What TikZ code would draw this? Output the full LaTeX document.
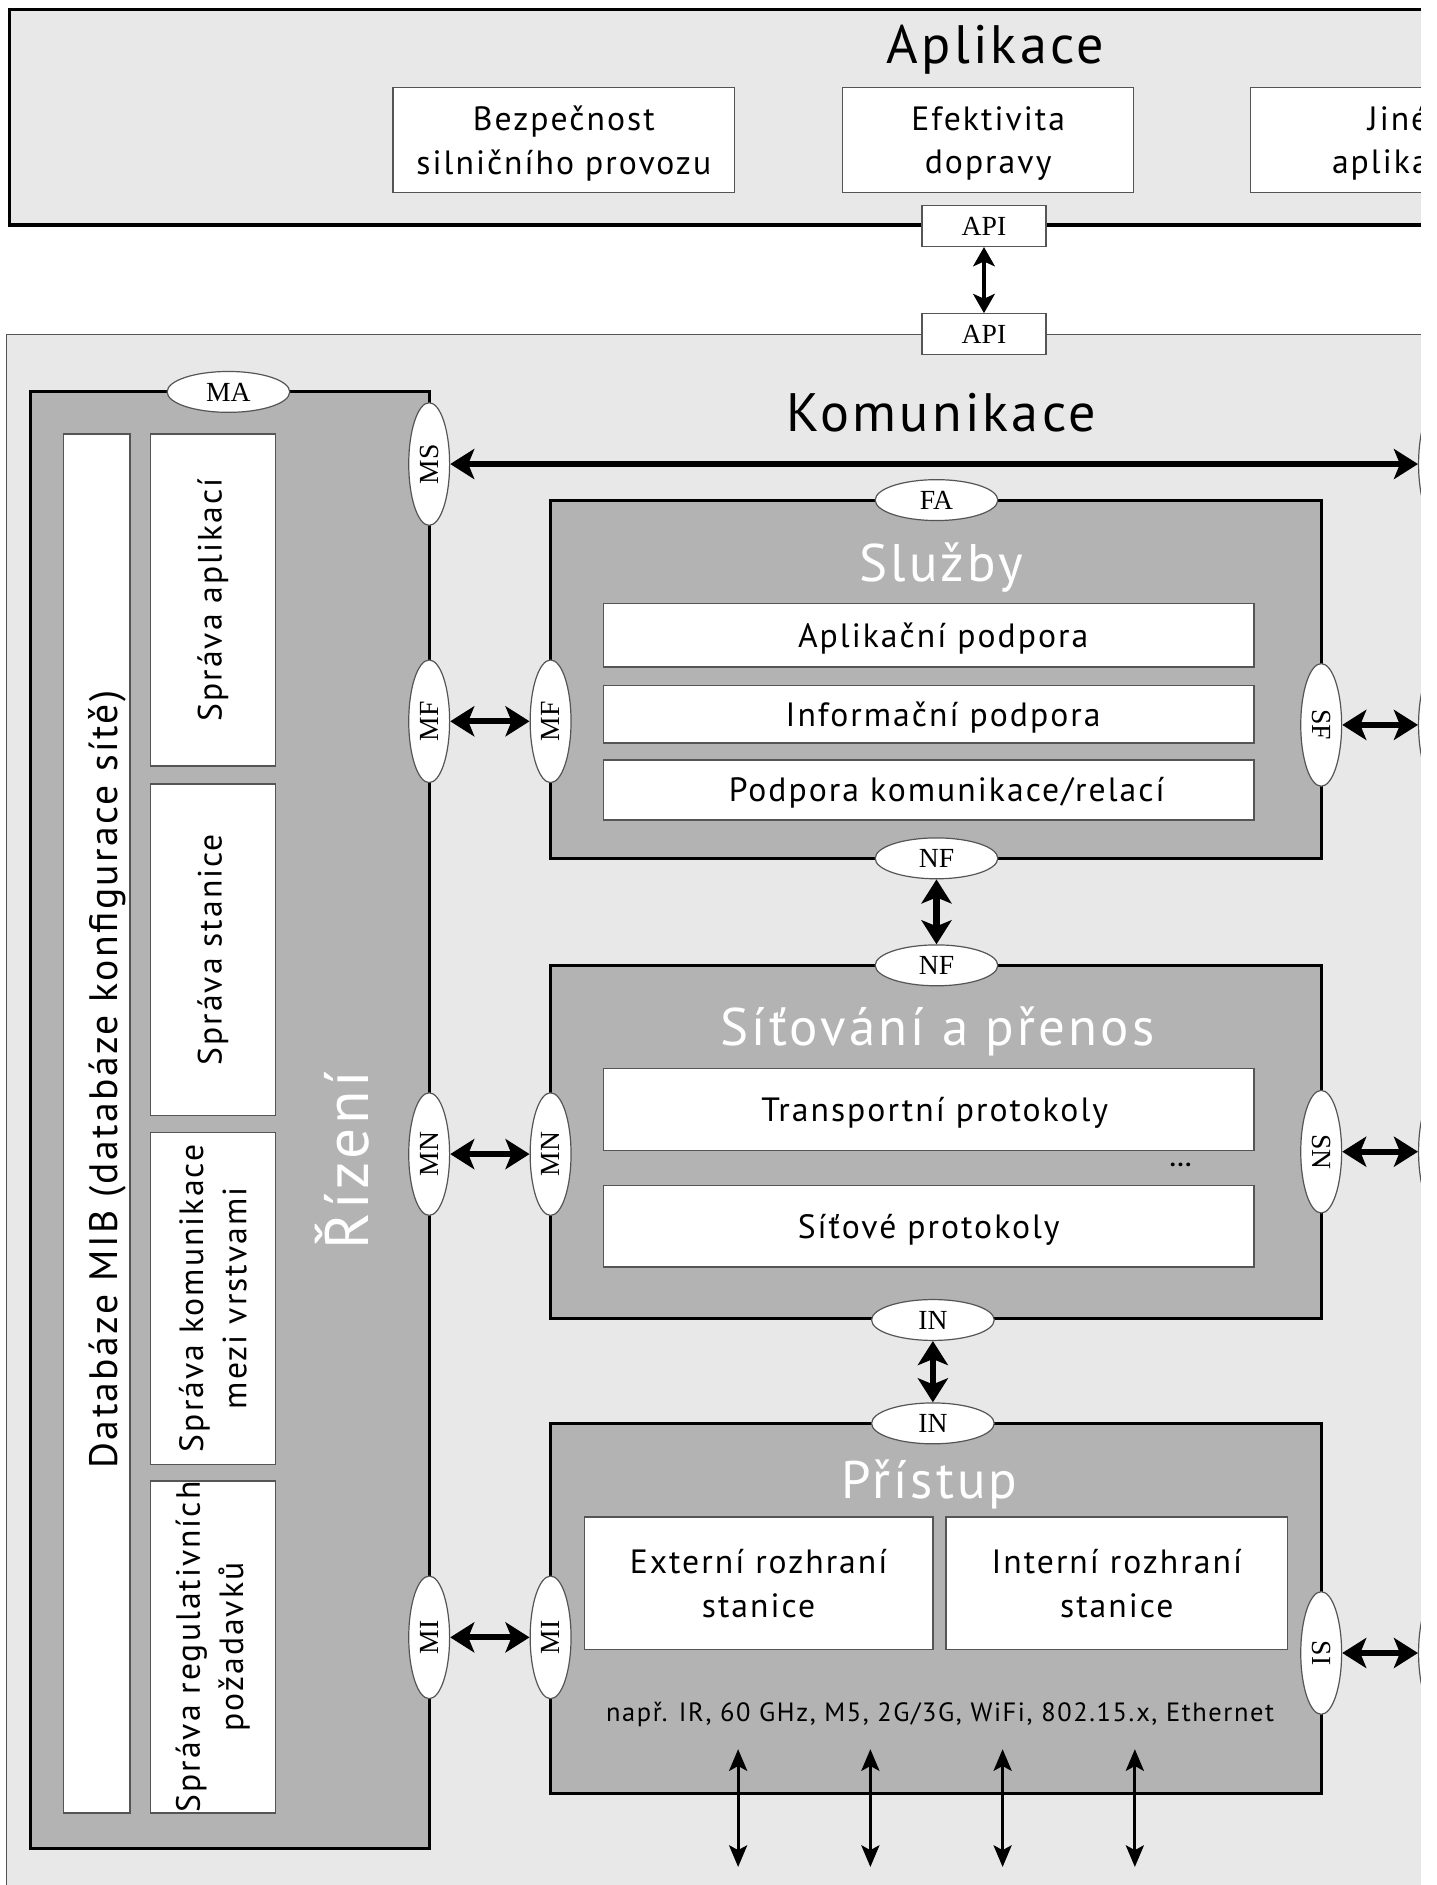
\documentclass[tikz,border=0pt]{standalone}
\usepackage{fontspec}
\setmainfont{PT Sans}[LetterSpace=6]
\newfontfamily\portfont{Liberation Serif}
\usetikzlibrary{shapes.geometric}
\usetikzlibrary{arrows.meta}
\definecolor{bglight}{HTML}{E8E8E8}
\definecolor{layergray}{HTML}{B3B3B3}
\definecolor{edgegray}{HTML}{555555}
\tikzset{
  layer/.style={draw=black, line width=2.5pt, fill=layergray, inner sep=0pt},
  funcbox/.style={draw=edgegray, line width=1.2pt, fill=white, inner sep=0pt,
    align=center, font=\fontsize{28}{36}\selectfont},
  mgmtbox/.style={funcbox, rotate=90, minimum width=276pt, minimum height=104pt},
  port/.style={ellipse, draw=edgegray, line width=1pt, fill=white, inner sep=0pt,
    minimum width=102pt, minimum height=34pt, font=\portfont\fontsize{23}{23}\selectfont},
  apibox/.style={draw=edgegray, line width=1pt, fill=white, inner sep=0pt,
    minimum width=103pt, minimum height=34pt, font=\portfont\fontsize{23}{23}\selectfont},
  bigtitle/.style={font=\fontsize{45}{45}\selectfont},
  layertitle/.style={text=white, font=\fontsize{44}{44}\selectfont},
  link/.style={line width=5pt, {Stealth[length=20pt,width=25pt,inset=5pt]}-{Stealth[length=20pt,width=25pt,inset=5pt]}},
  radio/.style={line width=2.6pt, {Stealth[length=18pt,width=15pt,inset=4pt]}-{Stealth[length=18pt,width=15pt,inset=4pt]}},
}
\begin{document}
\begin{tikzpicture}[x=1pt, y=-1pt]
  \useasboundingbox (0,0) rectangle (1195,1568);
  \clip (0,0) rectangle (1182,1568);

  % aplikace
  \node[draw=black, line width=3pt, fill=bglight, minimum width=1292pt, minimum height=179pt]
    (app) at (654,97.5) {};
  \node[bigtitle] (apptitle) at (828,41) {Aplikace};
  \node[funcbox, text depth=0pt, minimum width=284pt, minimum height=87pt] (safety) at (469,116.5)
    {Bezpečnost\\silničního provozu};
  \node[funcbox, text depth=0pt, minimum width=242pt, minimum height=87pt] (efficiency) at (822,116.5)
    {Efektivita\\dopravy};
  \node[funcbox, text depth=0pt, minimum width=246pt, minimum height=87pt] (otherapp) at (1163,116.5)
    {Jiné\\aplikace};

  % komunikace
  \node[draw=edgegray, line width=1pt, fill=bglight, minimum width=1400pt, minimum height=1400pt,
    anchor=north west] (comm) at (5,278) {};
  \node[apibox] (apiup) at (818.5,188) {API};
  \node[apibox] (apidown) at (818.5,278) {API};
  \draw[line width=4pt, {Stealth[length=16pt,width=18pt,inset=4pt]}-{Stealth[length=16pt,width=18pt,inset=4pt]}]
    (apiup) -- (apidown);
  \node[bigtitle] (commtitle) at (783,343) {Komunikace};

  % rizeni
  \node[layer, minimum width=332pt, minimum height=1212pt] (mgmt) at (191,932) {};
  \node[funcbox, minimum width=55pt, minimum height=1147pt] (mib) at (80.5,934.5) {};
  \node[rotate=90, font=\fontsize{33}{33}\selectfont] (mibtext) at (89,898)
    {Databáze MIB (databáze konfigurace sítě)};
  \node[mgmtbox] (appmgmt) at (177,499) {Správa aplikací};
  \node[mgmtbox] (stamgmt) at (177,790) {Správa stanice};
  \node[mgmtbox] (laymgmt) at (177,1080) {Správa komunikace\\mezi vrstvami};
  \node[mgmtbox] (regmgmt) at (177,1370) {Správa regulativních\\požadavků};
  \node[rotate=90, text=white, font=\fontsize{51}{51}\selectfont] (mgmttitle) at (285,965) {Řízení};
  \node[port] (ma) at (190,326) {MA};

  % sluzby
  \node[layer, minimum width=641pt, minimum height=298pt] (fac) at (778.5,565) {};
  \node[layertitle] (factitle) at (783,472) {Služby};
  \node[funcbox, text depth=0pt, minimum width=541pt, minimum height=53pt] (appsup) at (772.5,528.5)
    {\hspace*{24pt}Aplikační podpora};
  \node[funcbox, text depth=0pt, minimum width=541pt, minimum height=48pt] (infsup) at (772.5,594)
    {\hspace*{24pt}Informační podpora};
  \node[funcbox, text depth=0pt, minimum width=541pt, minimum height=50pt] (comsup) at (772.5,657)
    {\hspace*{30pt}Podpora komunikace/relací};

  % sitovani
  \node[layer, minimum width=641pt, minimum height=294pt] (net) at (778.5,950) {};
  \node[layertitle] (nettitle) at (780,858) {Síťování a přenos};
  \node[funcbox, text depth=0pt, minimum width=541pt, minimum height=68pt] (transp) at (772.5,923)
    {\hspace*{10pt}Transportní protokoly};
  \node[funcbox, text depth=0pt, minimum width=541pt, minimum height=68pt] (netprot) at (772.5,1020)
    {Síťové protokoly};
  \node[font=\bfseries\fontsize{20}{20}\selectfont] (netdots) at (982,969) {...};

  % pristup
  \node[layer, minimum width=641pt, minimum height=308pt] (acc) at (778.5,1338) {};
  \node[layertitle] (acctitle) at (773,1235) {Přístup};
  \node[funcbox, text depth=0pt, minimum width=290pt, minimum height=110pt] (extif) at (631,1317)
    {Externí rozhraní\\stanice};
  \node[funcbox, text depth=0pt, minimum width=284pt, minimum height=110pt] (intif) at (929,1317)
    {Interní rozhraní\\stanice};
  \node[font=\fontsize{22}{22}\selectfont] (radios) at (782,1426)
    {např. IR, 60 GHz, M5, 2G/3G, WiFi, 802.15.x, Ethernet};
  \foreach \x [count=\i] in {614,724,834,944} {
    \coordinate (radio\i top) at (\x,1455);
    \coordinate (radio\i bot) at (\x,1553);
    \draw[radio] (radio\i top) -- (radio\i bot);
  }

  % rozhrani
  \node[port, rotate=90] (ms) at (357,386) {MS};
  \node[port, rotate=90] (mfl) at (357,600) {MF};
  \node[port, rotate=90] (mfr) at (458,600) {MF};
  \node[port, rotate=90] (mnl) at (357,960) {MN};
  \node[port, rotate=90] (mnr) at (458,960) {MN};
  \node[port, rotate=90] (mil) at (357,1362) {MI};
  \node[port, rotate=90] (mir) at (458,1362) {MI};
  \node[port] (fa) at (779,416) {FA};
  \node[port] (nfup) at (779,714) {NF};
  \node[port] (nfdown) at (779,803) {NF};
  \node[port] (inup) at (776,1098) {IN};
  \node[port] (indown) at (776,1184) {IN};
  \node[port, rotate=-90] (sf) at (1099,603) {SF};
  \node[port, rotate=-90] (sn) at (1099,958) {SN};
  \node[port, rotate=-90] (si) at (1099,1375) {SI};
  \node[port, rotate=-90] (msout) at (1197,386) {};
  \node[port, rotate=-90] (sfout) at (1197,603) {};
  \node[port, rotate=-90] (snout) at (1197,958) {};
  \node[port, rotate=-90] (siout) at (1197,1375) {};

  \draw[link] (ms) -- (msout);
  \draw[link] (mfl) -- (mfr);
  \draw[link] (mnl) -- (mnr);
  \draw[link] (mil) -- (mir);
  \draw[link] (sf) -- (sfout);
  \draw[link] (sn) -- (snout);
  \draw[link] (si) -- (siout);
  \draw[link] (nfup) -- (nfdown);
  \draw[link] (inup) -- (indown);
\end{tikzpicture}
\end{document}
